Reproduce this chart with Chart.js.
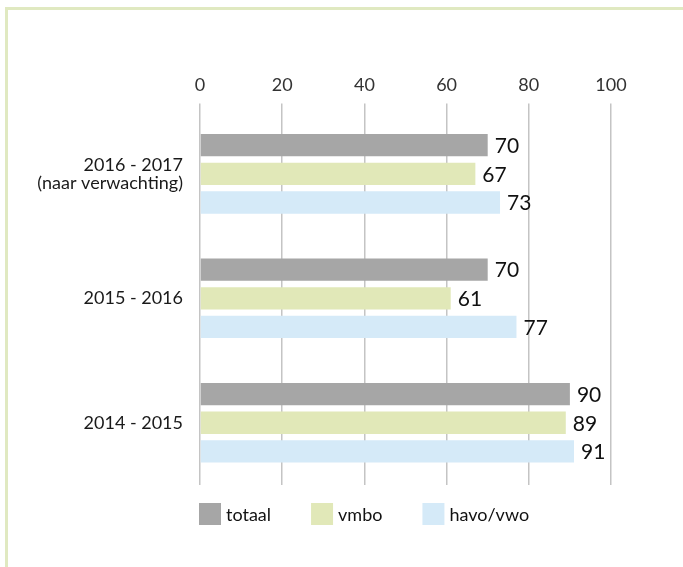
<!DOCTYPE html>
<html>
<head>
<meta charset="utf-8">
<script src="https://cdn.jsdelivr.net/npm/chart.js@4"></script>
<style>
  body { margin: 0; background: #fff; }
  #wrap { position: relative; width: 683px; height: 567px; overflow: hidden; }
  #frame { position: absolute; left: 5px; top: 7px; width: 700px; height: 600px; border: 3px solid #e0e9c1; }
  #myChart { position: absolute; left: 0; top: 0; }
</style>
</head>
<body>
<div id="wrap">
  <div id="frame"></div>
  <canvas id="myChart" width="683" height="567"></canvas>
</div>
<script>
const categorieen = [["2016 - 2017", "(naar verwachting)"], "2015 - 2016", "2014 - 2015"];
const totaal = [70, 70, 90];
const vmbo = [67, 61, 89];
const havoVwo = [73, 77, 91];
const xTicks = [0, 20, 40, 60, 80, 100];

const fontFam = "Lato, 'Open Sans', sans-serif";

// waarde achter elke balk
const waardeLabels = {
  id: "waardeLabels",
  afterDatasetsDraw(chart) {
    const ctx = chart.ctx;
    ctx.save();
    ctx.font = "21px " + fontFam;
    ctx.fillStyle = "#111";
    ctx.textBaseline = "middle";
    chart.data.datasets.forEach((ds, i) => {
      chart.getDatasetMeta(i).data.forEach((bar, j) => {
        ctx.fillText(ds.data[j], bar.x + 7, bar.y + 1);
      });
    });
    ctx.restore();
  }
};

// legenda onder de grafiek, links uitgelijnd op de as
const legenda = {
  id: "legenda",
  afterDraw(chart) {
    const ctx = chart.ctx;
    ctx.save();
    ctx.font = "18px " + fontFam;
    ctx.textBaseline = "middle";
    let x = chart.chartArea.left - 1;
    const y = 503;
    chart.data.datasets.forEach((ds) => {
      ctx.fillStyle = ds.backgroundColor;
      ctx.fillRect(x, y, 22, 22);
      ctx.fillStyle = "#111";
      ctx.fillText(ds.label, x + 27, y + 12);
      x += 27 + ctx.measureText(ds.label).width + 40;
    });
    ctx.restore();
  }
};

const ctx = document.getElementById("myChart").getContext("2d");
new Chart(ctx, {
  type: "bar",
  data: {
    labels: categorieen,
    datasets: [
      { label: "totaal", data: totaal, backgroundColor: "#a6a6a6" },
      { label: "vmbo", data: vmbo, backgroundColor: "#e1e8b8" },
      { label: "havo/vwo", data: havoVwo, backgroundColor: "#d5eaf8" }
    ]
  },
  options: {
    indexAxis: "y",
    responsive: false,
    animation: false,
    categoryPercentage: 0.69,
    barPercentage: 0.78,
    layout: { padding: { left: 0, right: 72, top: 66, bottom: 82 } },
    plugins: {
      legend: { display: false },
      tooltip: { enabled: false }
    },
    scales: {
      x: {
        position: "top",
        min: 0,
        max: 100,
        afterBuildTicks(scale) {
          scale.ticks = xTicks.map(v => ({ value: v }));
        },
        grid: { color: "#c4c4c4", lineWidth: 1.5, tickLength: 8 },
        border: { display: false },
        ticks: { padding: 8, color: "#333", font: { family: fontFam, size: 18 } }
      },
      y: {
        grid: { display: false, drawTicks: false },
        border: { display: false },
        afterFit(scale) { scale.width = 200; },
        ticks: { padding: 17, color: "#1a1a1a", font: { family: fontFam, size: 18, lineHeight: 1.0 } }
      }
    }
  },
  plugins: [waardeLabels, legenda]
});
</script>
</body>
</html>
